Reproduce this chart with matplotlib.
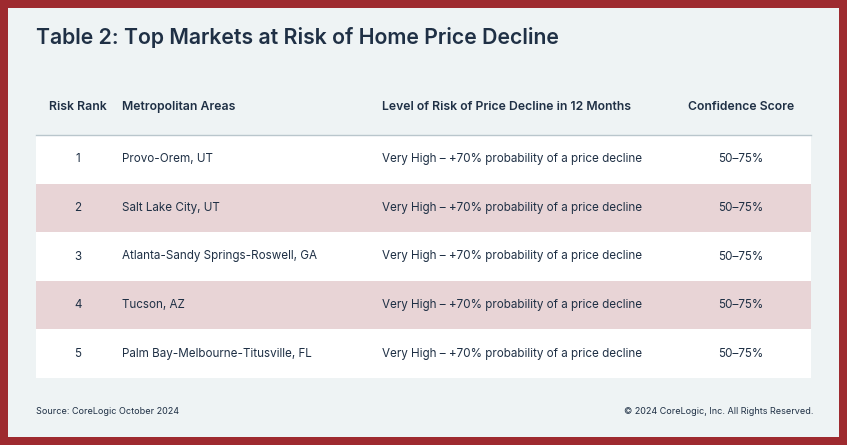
import matplotlib.pyplot as plt
from matplotlib.patches import Rectangle

title = "Table 2: Top Markets at Risk of Home Price Decline"
headers = ["Risk Rank", "Metropolitan Areas", "Level of Risk of Price Decline in 12 Months", "Confidence Score"]
ranks = ["1", "2", "3", "4", "5"]
metros = ["Provo-Orem, UT", "Salt Lake City, UT", "Atlanta-Sandy Springs-Roswell, GA",
          "Tucson, AZ", "Palm Bay-Melbourne-Titusville, FL"]
risk = ["Very High \u2013 +70% probability of a price decline"] * 5
confidence = ["50\u201375%"] * 5
source = "Source: CoreLogic October 2024"
copyright_txt = "\u00a9 2024 CoreLogic, Inc. All Rights Reserved."

W, H = 847, 445
fig = plt.figure(figsize=(W / 100, H / 100), dpi=100)
fig.patch.set_facecolor("#9e2a2f")
ax = fig.add_axes([0, 0, 1, 1])
ax.set_xlim(0, W)
ax.set_ylim(H, 0)
ax.axis("off")
plt.rcParams["font.family"] = "Inter"

navy = "#1f3045"
ax.add_patch(Rectangle((8, 8), W - 16, H - 16, facecolor="#eef3f4", edgecolor="none"))
ax.text(36, 38, title, fontsize=15.3, fontweight="semibold", color=navy, va="center", ha="left")

top, row_h, x0, x1 = 135, 48.6, 36, 811
col_x = [78, 122, 382, 741]
col_ha = ["center", "left", "left", "center"]
for j, h in enumerate(headers):
    ax.text(col_x[j], 107, h, fontsize=8.8, fontweight="semibold", color=navy, ha=col_ha[j], va="center")
ax.plot([x0, x1], [top, top], color="#b9c6cc", lw=1)

for i in range(len(ranks)):
    y = top + i * row_h
    fc = "#e8d4d6" if i % 2 else "white"
    ax.add_patch(Rectangle((x0, y), x1 - x0, row_h, facecolor=fc, edgecolor="none"))
    vals = [ranks[i], metros[i], risk[i], confidence[i]]
    for j, v in enumerate(vals):
        ax.text(col_x[j], y + row_h / 2, v, fontsize=8.4, color=navy, ha=col_ha[j], va="center")

ax.text(36, 412, source, fontsize=6.5, color=navy, va="center", ha="left")
ax.text(814, 412, copyright_txt, fontsize=6.5, color=navy, va="center", ha="right")

fig.savefig("out.png", dpi=100, facecolor=fig.get_facecolor())
